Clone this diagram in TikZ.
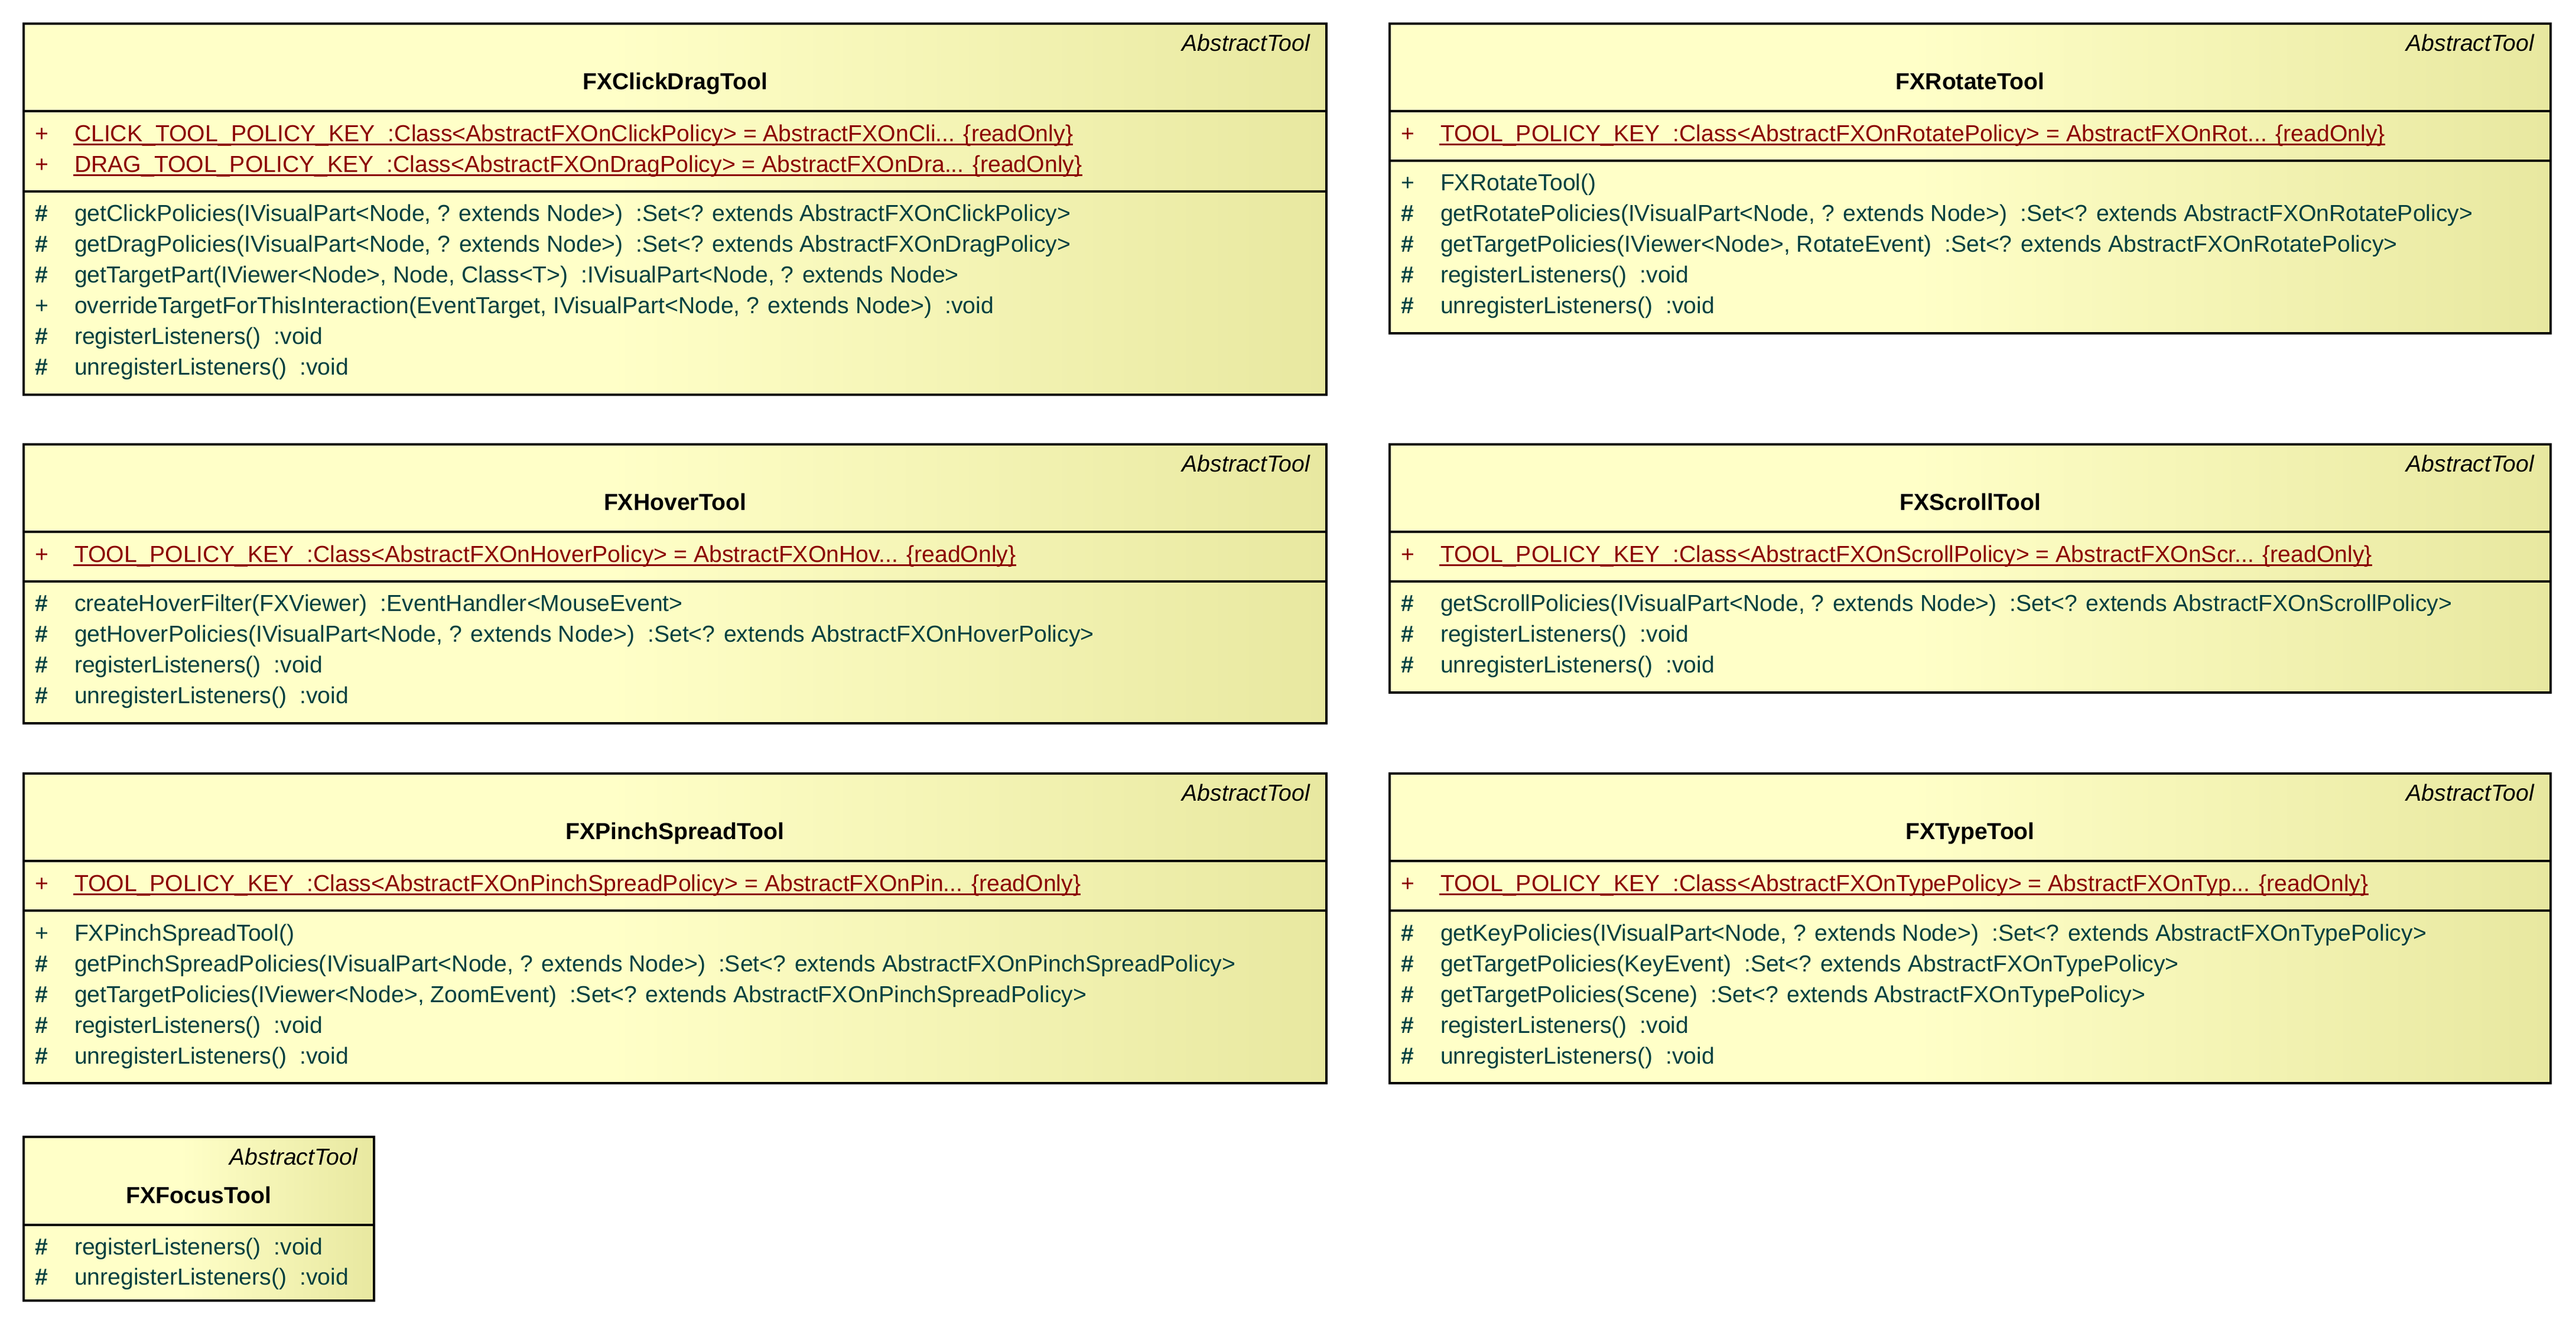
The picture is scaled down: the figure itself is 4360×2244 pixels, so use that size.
\documentclass[tikz,border=0pt]{standalone}
\usepackage{fontspec}
\setmainfont{Liberation Sans}
\definecolor{ylight}{RGB}{255,255,200}
\definecolor{ydark}{RGB}{232,232,160}
\definecolor{methc}{RGB}{0,64,64}
\definecolor{attrc}{RGB}{139,0,0}
\tikzset{
  txt/.style={anchor=base west,inner sep=0pt,outer sep=0pt,font=\fontsize{9.8pt}{11pt}\selectfont},
  boxline/.style={draw=black,line width=0.95pt},
  stereo/.style={anchor=base east,inner sep=0pt,outer sep=0pt,font=\fontsize{9.8pt}{11pt}\selectfont\itshape},
  ctitle/.style={anchor=base,inner sep=0pt,outer sep=0pt,font=\fontsize{9.8pt}{11pt}\selectfont\bfseries}
}
\newcommand\hsh{\textbf{\#}}
% #1 id, #2 x1, #3 x2, #4 top, #5 bottom, #6 title
\newcommand\ubox[6]{%
  \fill[ylight] (#2,#4) rectangle ({#2+0.45*(#3-#2)},#5);
  \shade[left color=ylight,right color=ydark] ({#2+0.45*(#3-#2)-1},#4) rectangle (#3,#5);
  \draw[boxline] (#2,#4) rectangle (#3,#5);
  \node[stereo] (#1st) at (#3-28,#4+47) {AbstractTool};
  \node[ctitle] (#1ti) at ({(#2+#3)/2},#4+112) {#6};
}
\newcommand\usep[3]{\draw[boxline] (#1,#3) -- (#2,#3);}
% #1 name, #2 x1, #3 baseline, #4 vis, #5 text
\newcommand\mrow[5]{%
  \node[txt,text=methc] (#1v) at (#2+19,#3) {#4};
  \node[txt,text=methc] (#1) at (#2+86,#3) {#5};
}
\newcommand\arow[4]{%
  \node[txt,text=attrc] (#1v) at (#2+19,#3) {+};
  \node[txt,text=attrc] (#1) at (#2+86,#3) {#4};
  \draw[attrc,line width=0.6pt] ([xshift=-0.5pt,yshift=-1.1pt]#1.base west) -- ([yshift=-1.1pt]#1.base east);
}
\begin{document}
\begin{tikzpicture}[x=0.25pt,y=-0.25pt]
\useasboundingbox (0,0) rectangle (4360,2244);

% ---------- FXClickDragTool
\ubox{a}{40}{2245}{40}{668}{FXClickDragTool}
\usep{40}{2245}{188}
\usep{40}{2245}{324}
\arow{aa1}{40}{240}{CLICK\_TOOL\_POLICY\_KEY~~:Class<AbstractFXOnClickPolicy> = AbstractFXOnCli... \{readOnly\}}
\arow{aa2}{40}{292}{DRAG\_TOOL\_POLICY\_KEY~~:Class<AbstractFXOnDragPolicy> = AbstractFXOnDra... \{readOnly\}}
\mrow{am1}{40}{375}{\hsh}{getClickPolicies(IVisualPart<Node, ? extends Node>)~~:Set<? extends AbstractFXOnClickPolicy>}
\mrow{am2}{40}{427}{\hsh}{getDragPolicies(IVisualPart<Node, ? extends Node>)~~:Set<? extends AbstractFXOnDragPolicy>}
\mrow{am3}{40}{479}{\hsh}{getTargetPart(IViewer<Node>, Node, Class<T>)~~:IVisualPart<Node, ? extends Node>}
\mrow{am4}{40}{531}{+}{overrideTargetForThisInteraction(EventTarget, IVisualPart<Node, ? extends Node>)~~:void}
\mrow{am5}{40}{583}{\hsh}{registerListeners()~~:void}
\mrow{am6}{40}{635}{\hsh}{unregisterListeners()~~:void}

% ---------- FXRotateTool
\ubox{b}{2352}{4317}{40}{564}{FXRotateTool}
\usep{2352}{4317}{188}
\usep{2352}{4317}{272}
\arow{ba1}{2352}{240}{TOOL\_POLICY\_KEY~~:Class<AbstractFXOnRotatePolicy> = AbstractFXOnRot... \{readOnly\}}
\mrow{bm1}{2352}{323}{+}{FXRotateTool()}
\mrow{bm2}{2352}{375}{\hsh}{getRotatePolicies(IVisualPart<Node, ? extends Node>)~~:Set<? extends AbstractFXOnRotatePolicy>}
\mrow{bm3}{2352}{427}{\hsh}{getTargetPolicies(IViewer<Node>, RotateEvent)~~:Set<? extends AbstractFXOnRotatePolicy>}
\mrow{bm4}{2352}{479}{\hsh}{registerListeners()~~:void}
\mrow{bm5}{2352}{531}{\hsh}{unregisterListeners()~~:void}

% ---------- FXHoverTool
\ubox{c}{40}{2245}{752}{1224}{FXHoverTool}
\usep{40}{2245}{900}
\usep{40}{2245}{984}
\arow{ca1}{40}{952}{TOOL\_POLICY\_KEY~~:Class<AbstractFXOnHoverPolicy> = AbstractFXOnHov... \{readOnly\}}
\mrow{cm1}{40}{1035}{\hsh}{createHoverFilter(FXViewer)~~:EventHandler<MouseEvent>}
\mrow{cm2}{40}{1087}{\hsh}{getHoverPolicies(IVisualPart<Node, ? extends Node>)~~:Set<? extends AbstractFXOnHoverPolicy>}
\mrow{cm3}{40}{1139}{\hsh}{registerListeners()~~:void}
\mrow{cm4}{40}{1191}{\hsh}{unregisterListeners()~~:void}

% ---------- FXScrollTool
\ubox{d}{2352}{4317}{752}{1172}{FXScrollTool}
\usep{2352}{4317}{900}
\usep{2352}{4317}{984}
\arow{da1}{2352}{952}{TOOL\_POLICY\_KEY~~:Class<AbstractFXOnScrollPolicy> = AbstractFXOnScr... \{readOnly\}}
\mrow{dm1}{2352}{1035}{\hsh}{getScrollPolicies(IVisualPart<Node, ? extends Node>)~~:Set<? extends AbstractFXOnScrollPolicy>}
\mrow{dm2}{2352}{1087}{\hsh}{registerListeners()~~:void}
\mrow{dm3}{2352}{1139}{\hsh}{unregisterListeners()~~:void}

% ---------- FXPinchSpreadTool
\ubox{e}{40}{2245}{1309}{1833}{FXPinchSpreadTool}
\usep{40}{2245}{1457}
\usep{40}{2245}{1541}
\arow{ea1}{40}{1509}{TOOL\_POLICY\_KEY~~:Class<AbstractFXOnPinchSpreadPolicy> = AbstractFXOnPin... \{readOnly\}}
\mrow{em1}{40}{1592}{+}{FXPinchSpreadTool()}
\mrow{em2}{40}{1644}{\hsh}{getPinchSpreadPolicies(IVisualPart<Node, ? extends Node>)~~:Set<? extends AbstractFXOnPinchSpreadPolicy>}
\mrow{em3}{40}{1696}{\hsh}{getTargetPolicies(IViewer<Node>, ZoomEvent)~~:Set<? extends AbstractFXOnPinchSpreadPolicy>}
\mrow{em4}{40}{1748}{\hsh}{registerListeners()~~:void}
\mrow{em5}{40}{1800}{\hsh}{unregisterListeners()~~:void}

% ---------- FXTypeTool
\ubox{f}{2352}{4317}{1309}{1833}{FXTypeTool}
\usep{2352}{4317}{1457}
\usep{2352}{4317}{1541}
\arow{fa1}{2352}{1509}{TOOL\_POLICY\_KEY~~:Class<AbstractFXOnTypePolicy> = AbstractFXOnTyp... \{readOnly\}}
\mrow{fm1}{2352}{1592}{\hsh}{getKeyPolicies(IVisualPart<Node, ? extends Node>)~~:Set<? extends AbstractFXOnTypePolicy>}
\mrow{fm2}{2352}{1644}{\hsh}{getTargetPolicies(KeyEvent)~~:Set<? extends AbstractFXOnTypePolicy>}
\mrow{fm3}{2352}{1696}{\hsh}{getTargetPolicies(Scene)~~:Set<? extends AbstractFXOnTypePolicy>}
\mrow{fm4}{2352}{1748}{\hsh}{registerListeners()~~:void}
\mrow{fm5}{2352}{1800}{\hsh}{unregisterListeners()~~:void}

% ---------- FXFocusTool
\ubox{g}{40}{633}{1924}{2201}{FXFocusTool}
\usep{40}{633}{2073}
\mrow{gm1}{40}{2123}{\hsh}{registerListeners()~~:void}
\mrow{gm2}{40}{2174}{\hsh}{unregisterListeners()~~:void}
\end{tikzpicture}
\end{document}
